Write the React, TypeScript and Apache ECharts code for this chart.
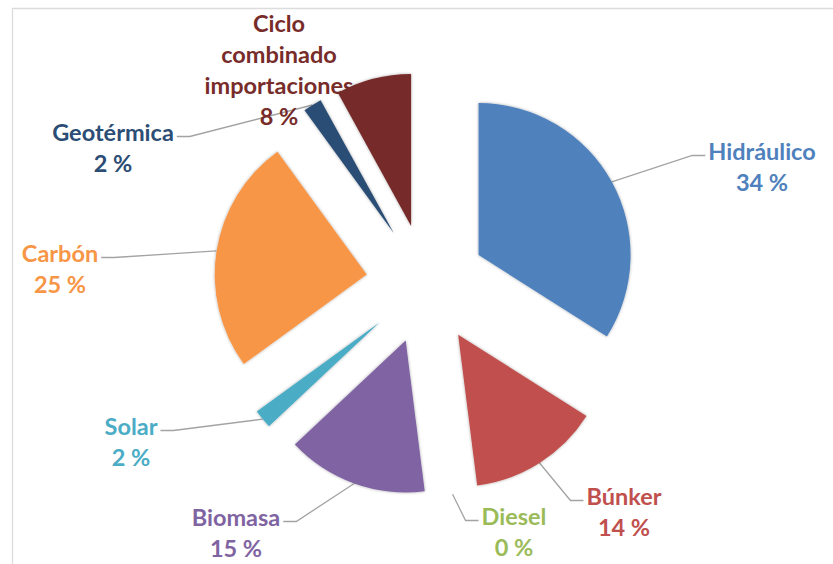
import React, { useEffect, useRef } from 'react';
import * as echarts from 'echarts';

const categories = [
  'Hidráulico',
  'Búnker',
  'Diesel',
  'Biomasa',
  'Solar',
  'Carbón',
  'Geotérmica',
  'Ciclo\ncombinado\nimportaciones',
];
const values = [34, 14, 0, 15, 2, 25, 2, 8];
const colors = ['#4F81BD', '#C0504D', '#9BBB59', '#8064A2', '#4BACC6', '#F79646', '#2C4D75', '#772C2A'];
const showLeader = [true, true, true, true, true, true, true, false];
// label block centres (layout only)
const labelCenters: [number, number][] = [
  [762, 166],
  [624, 511],
  [514, 531],
  [236, 532],
  [131, 441],
  [60, 268],
  [113, 147],
  [279, 69],
];

const CENTER = [426, 284];
const RADIUS = 152;
const OFFSET = 60;
const LINE_H = 31;

export default function App() {
  const ref = useRef<HTMLDivElement>(null);
  useEffect(() => {
    if (!ref.current) return;
    const chart = echarts.init(ref.current, null, { renderer: 'svg' });
    const labelStyle = {
      fontFamily: 'Lato',
      fontWeight: 'bold',
      fontSize: 23.5,
      lineHeight: LINE_H,
      align: 'center',
    };
    chart.setOption({
      animation: false,
      backgroundColor: '#ffffff',
      graphic: [
        {
          type: 'rect',
          left: 10,
          top: 6,
          shape: { width: 900, height: 700 },
          style: { fill: 'none', stroke: '#dcdcdc', lineWidth: 1.3 },
          silent: true,
        },
      ],
      series: [
        {
          type: 'pie',
          center: CENTER,
          radius: RADIUS,
          startAngle: 90,
          clockwise: true,
          selectedMode: 'multiple',
          selectedOffset: OFFSET,
          silent: true,
          data: categories.map((name, i) => ({
            name,
            value: values[i],
            selected: true,
            itemStyle: { color: colors[i] },
          })),
          itemStyle: { shadowBlur: 3, shadowColor: 'rgba(0,0,0,0.35)' },
          select: { itemStyle: { shadowBlur: 3, shadowColor: 'rgba(0,0,0,0.35)' } },
          label: { show: false },
          labelLine: { show: false },
        },
        {
          type: 'pie',
          center: CENTER,
          radius: RADIUS + OFFSET,
          startAngle: 90,
          clockwise: true,
          silent: true,
          avoidLabelOverlap: false,
          data: categories.map((name, i) => ({
            name,
            value: values[i],
            itemStyle: { color: 'rgba(0,0,0,0)' },
            label: { color: colors[i] },
            labelLine: { show: showLeader[i] },
          })),
          label: {
            show: true,
            position: 'outside',
            formatter: '{b}\n{c} %',
            ...labelStyle,
          },
          labelLine: {
            show: true,
            lineStyle: { color: '#a3a3a3', width: 1.3 },
          },
          labelLayout: (params: any) => {
            const i = params.dataIndex;
            const [cx, cy] = labelCenters[i];
            const out: any = { x: cx, y: cy, align: 'center', verticalAlign: 'middle', hideOverlap: false };
            const pts = params.labelLinePoints;
            if (pts && pts.length && showLeader[i]) {
              const start = pts[0];
              const w = params.labelRect.width;
              const h = params.labelRect.height;
              const ey = cy - h / 2 + LINE_H / 2 + 5;
              const leftSide = cx > start[0];
              const ex = leftSide ? cx - w / 2 - 3 : cx + w / 2 + 3;
              const elbowX = leftSide ? ex - 13 : ex + 13;
              out.labelLinePoints = [start, [elbowX, ey], [ex, ey]];
            }
            return out;
          },
        },
      ],
    });
    return () => chart.dispose();
  }, []);
  return <div ref={ref} style={{ position: 'fixed', left: 0, top: 0, width: 833, height: 564 }} />;
}
